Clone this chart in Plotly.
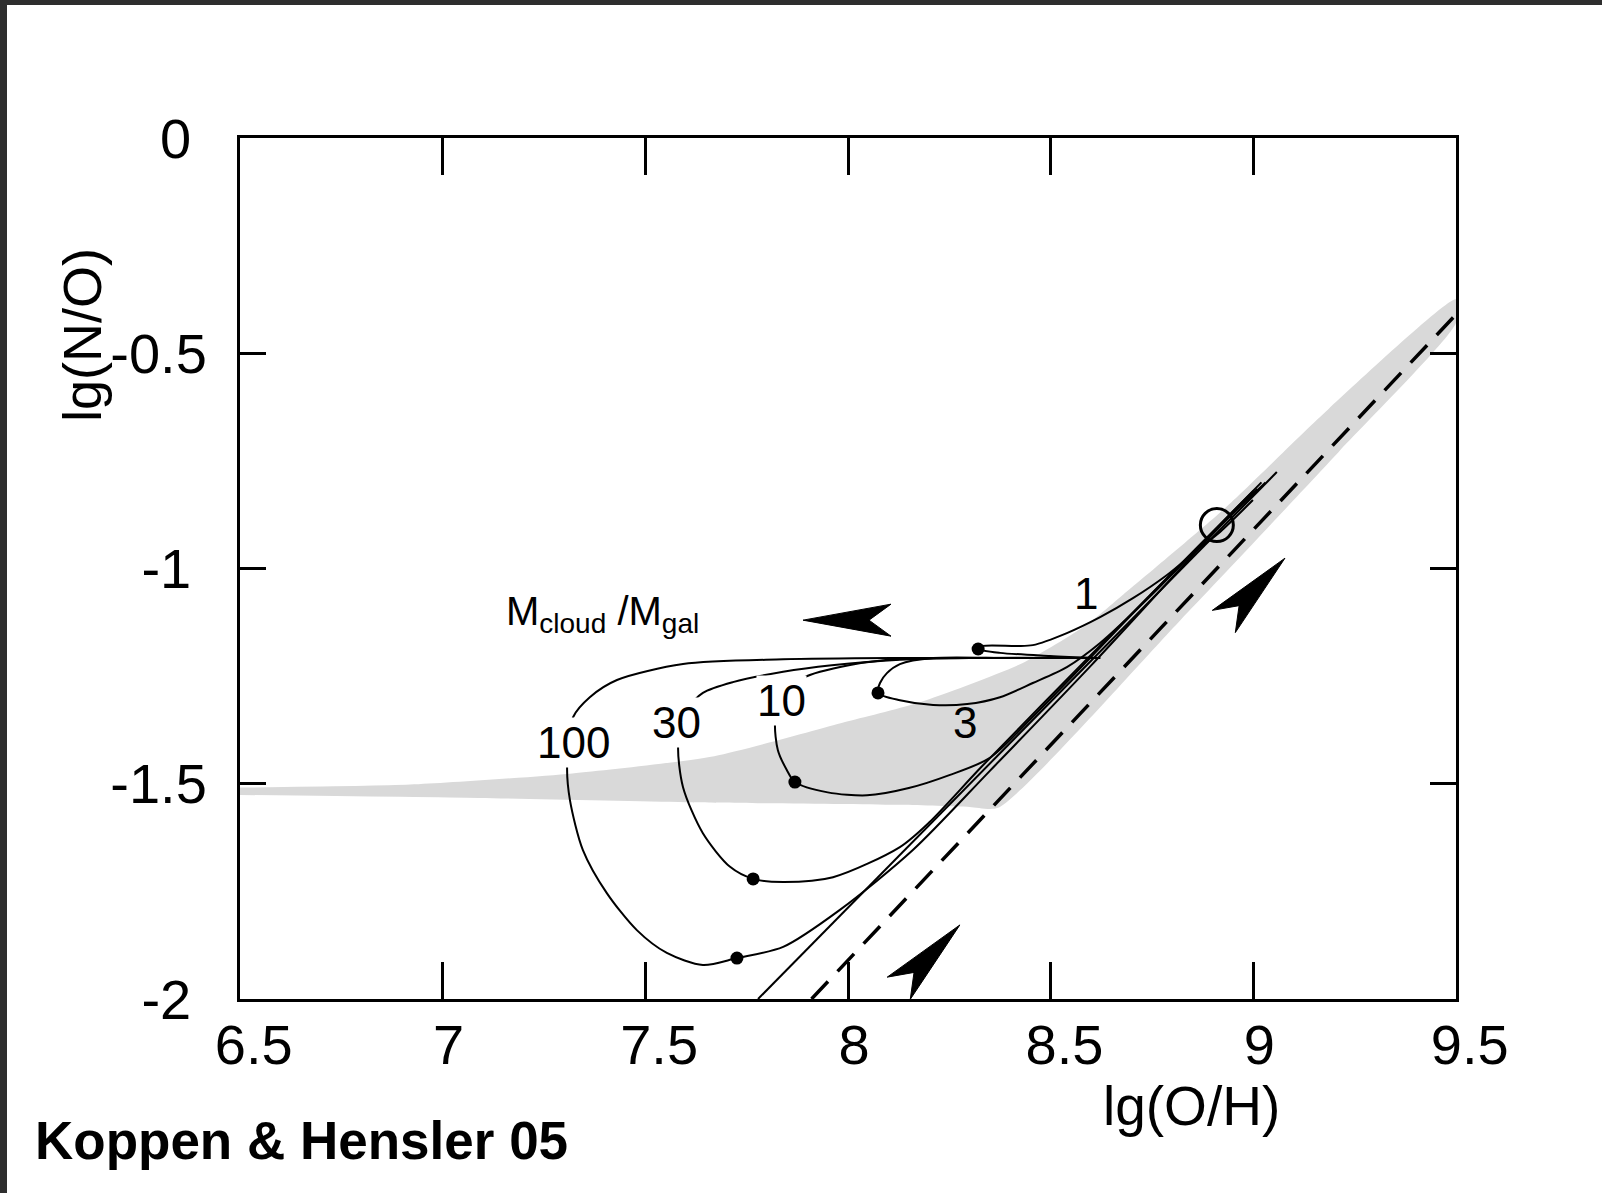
import math
import plotly.graph_objects as go

# ---------------- data ----------------
x_ticks = [6.5, 7, 7.5, 8, 8.5, 9, 9.5]
x_ticktext = ["\u00a06.5", "7", "\u00a07.5", "8", "\u00a08.5", "9", "\u00a09.5"]
y_ticks = [0, -0.5, -1, -1.5, -2]
y_ticktext = ["0\u00a0", "-0.5", "-1\u00a0", "-1.5", "-2\u00a0"]

# grey band (upper edge left->right, lower edge left->right)
band_upper_x = [6.5, 6.92, 7.32, 7.67, 8.0, 8.18, 8.43, 8.59, 8.68, 8.93, 9.185, 9.5]
band_upper_y = [-1.509, -1.502, -1.476, -1.436, -1.355, -1.31, -1.22, -1.13, -1.06, -0.86, -0.63, -0.375]
band_lower_x = [6.5, 7.09, 7.6, 8.13, 8.30, 8.37, 8.82, 9.21, 9.5]
band_lower_y = [-1.526, -1.533, -1.543, -1.549, -1.554, -1.556, -1.12, -0.73, -0.43]

# closed-box reference lines
dashed_x = [7.91, 9.5]
dashed_y = [-2.0, -0.41]
straight_x = [7.778, 9.058]
straight_y = [-2.0, -0.776]

# model tracks for M_cloud/M_gal
curve1_x = [8.622, 8.498, 8.375, 8.321, 8.333, 8.417, 8.456, 8.540, 8.622, 8.703, 8.787, 8.868, 8.918, 8.999]
curve1_y = [-1.208, -1.203, -1.196, -1.187, -1.180, -1.180, -1.178, -1.150, -1.113, -1.069, -1.015, -0.952, -0.915, -0.841]

curve3_x = [8.622, 8.40, 8.21, 8.128, 8.096, 8.079, 8.074, 8.128, 8.210, 8.294, 8.375, 8.456, 8.540, 8.622, 8.745, 8.85, 8.92, 9.01]
curve3_y = [-1.208, -1.208, -1.208, -1.222, -1.243, -1.266, -1.289, -1.306, -1.317, -1.315, -1.299, -1.266, -1.229, -1.173, -1.065, -0.965, -0.897, -0.815]

curve10_x = [8.622, 8.30, 8.128, 8.005, 7.889, 7.835, 7.820, 7.827, 7.849, 7.869, 7.95, 8.047, 8.15, 8.25, 8.35, 8.45, 8.6, 8.75, 8.91, 9.0]
curve10_y = [-1.208, -1.208, -1.210, -1.224, -1.254, -1.30, -1.359, -1.422, -1.468, -1.496, -1.52, -1.527, -1.51, -1.48, -1.44, -1.35, -1.205, -1.058, -0.905, -0.82]

curve30_x = [8.622, 8.3, 8.128, 7.960, 7.840, 7.716, 7.642, 7.600, 7.581, 7.593, 7.642, 7.709, 7.766, 7.840, 7.963, 8.128, 8.20, 8.33, 8.6, 8.91, 9.02]
curve30_y = [-1.208, -1.208, -1.212, -1.225, -1.240, -1.264, -1.289, -1.330, -1.410, -1.508, -1.615, -1.693, -1.721, -1.728, -1.717, -1.647, -1.59, -1.46, -1.20, -0.905, -0.80]

curve100_x = [8.622, 8.128, 7.840, 7.593, 7.430, 7.363, 7.322, 7.307, 7.314, 7.346, 7.405, 7.479, 7.553, 7.642, 7.726, 7.840, 7.980, 8.160, 8.35, 8.6, 8.91, 9.03]
curve100_y = [-1.208, -1.208, -1.211, -1.222, -1.259, -1.299, -1.345, -1.461, -1.538, -1.654, -1.754, -1.840, -1.893, -1.921, -1.905, -1.879, -1.793, -1.654, -1.47, -1.225, -0.91, -0.80]

dot_x = [8.321, 8.074, 7.869, 7.766, 7.726]
dot_y = [-1.187, -1.289, -1.496, -1.721, -1.905]

circle_x = [8.91]
circle_y = [-0.899]

label_text = ["1", "3", "10", "30", "100"]
label_x = [8.587, 8.289, 7.837, 7.578, 7.324]
label_y = [-1.057, -1.357, -1.306, -1.357, -1.405]
label_bg = [False, False, True, True, True]

arrow_tip_x = [7.889, 9.078, 8.276]
arrow_tip_y = [-1.120, -0.976, -1.828]
arrow_angle = [180, 46, 46]

# ---------------- geometry ----------------
W, H = 1602, 1193
PL, PR, PT, PB = 240, 1456, 138, 999
X0, X1, Y0, Y1 = 6.5, 9.5, -2.0, 0.0
sx = (PR - PL) / (X1 - X0)
sy = (PB - PT) / (Y1 - Y0)

def px_to_paper(px, py):
    return (px - PL) / (PR - PL), (PB - py) / (PB - PT)

FONT = "Liberation Sans, Arial, Helvetica, sans-serif"
fig = go.Figure()

# band
fig.add_trace(go.Scatter(
    x=band_upper_x + band_lower_x[::-1], y=band_upper_y + band_lower_y[::-1],
    fill="toself", fillcolor="#d9d9d9", mode="lines",
    line=dict(width=0, color="#d9d9d9", shape="spline", smoothing=0.6), hoverinfo="skip"))

fig.add_trace(go.Scatter(x=dashed_x, y=dashed_y, mode="lines",
                         line=dict(color="black", width=3.5, dash="24px,14px")))
fig.add_trace(go.Scatter(x=straight_x, y=straight_y, mode="lines",
                         line=dict(color="black", width=2)))

for cx, cy in [(curve1_x, curve1_y), (curve3_x, curve3_y), (curve10_x, curve10_y),
               (curve30_x, curve30_y), (curve100_x, curve100_y)]:
    fig.add_trace(go.Scatter(x=cx, y=cy, mode="lines",
                             line=dict(color="black", width=2, shape="spline", smoothing=0.8)))

fig.add_trace(go.Scatter(x=dot_x, y=dot_y, mode="markers",
                         marker=dict(color="black", size=13)))
fig.add_trace(go.Scatter(x=circle_x, y=circle_y, mode="markers",
                         marker=dict(symbol="circle-open", color="black", size=33,
                                     line=dict(width=3, color="black"))))

# arrowheads
L_ar, W_ar, N_ar = 88, 16, 22
local = [(0, 0), (-L_ar, W_ar), (-L_ar + N_ar, 0), (-L_ar, -W_ar), (0, 0)]
for tx, ty, ang in zip(arrow_tip_x, arrow_tip_y, arrow_angle):
    a = math.radians(ang)
    xs, ys = [], []
    for lx, ly in local:
        rx = lx * math.cos(a) - ly * math.sin(a)
        ry = lx * math.sin(a) + ly * math.cos(a)
        xs.append(tx + rx / sx)
        ys.append(ty + ry / sy)
    fig.add_trace(go.Scatter(x=xs, y=ys, fill="toself", fillcolor="black",
                             line=dict(color="black", width=1), mode="lines"))

annotations = []
for t, lx, ly, bg in zip(label_text, label_x, label_y, label_bg):
    annotations.append(dict(x=lx, y=ly, xref="x", yref="y", text=t, showarrow=False,
                            font=dict(family=FONT, size=44, color="black"),
                            bgcolor="white" if bg else "rgba(0,0,0,0)", borderpad=0))

annotations.append(dict(x=7.151, y=-1.105, xref="x", yref="y", xanchor="left", yanchor="middle",
                        text="M<sub>cloud</sub> /M<sub>gal</sub>", showarrow=False,
                        font=dict(family=FONT, size=40, color="black")))

ax_x, ax_y = px_to_paper(1191, 1106)
annotations.append(dict(x=ax_x, y=ax_y, xref="paper", yref="paper", text="lg(O/H)",
                        showarrow=False, xanchor="center", yanchor="middle",
                        font=dict(family=FONT, size=55, color="black")))
ay_x, ay_y = px_to_paper(82, 335)
annotations.append(dict(x=ay_x, y=ay_y, xref="paper", yref="paper", text="lg(N/O)",
                        showarrow=False, textangle=-90, xanchor="center", yanchor="middle",
                        font=dict(family=FONT, size=54, color="black")))
kx, ky = px_to_paper(33, 1140)
annotations.append(dict(x=kx, y=ky, xref="paper", yref="paper", text="<b>Koppen & Hensler 05</b>",
                        showarrow=False, xanchor="left", yanchor="middle",
                        font=dict(family=FONT, size=53, color="black")))

# dark photo border (left and top)
bx0, by0 = px_to_paper(0, 0)
bx1, by1 = px_to_paper(7, 5)
_, bybot = px_to_paper(0, H)
bxr, _ = px_to_paper(W, 0)
shapes = [
    dict(type="rect", xref="paper", yref="paper", x0=bx0, x1=bx1, y0=bybot, y1=by0,
         fillcolor="#2e2e2e", line=dict(width=0), layer="above"),
    dict(type="rect", xref="paper", yref="paper", x0=bx0, x1=bxr, y0=by1, y1=by0,
         fillcolor="#2e2e2e", line=dict(width=0), layer="above"),
]

fig.update_layout(
    width=W, height=H, autosize=False,
    margin=dict(l=PL, r=W - PR, t=PT, b=H - PB, pad=0),
    plot_bgcolor="white", paper_bgcolor="white", showlegend=False,
    annotations=annotations, shapes=shapes,
    font=dict(family=FONT, color="black"),
    xaxis=dict(range=[X0, X1], tickmode="array", tickvals=x_ticks, ticktext=x_ticktext,
               ticks="inside", ticklen=37, tickwidth=3, tickcolor="black",
               showline=True, linewidth=3, linecolor="black", mirror="ticks",
               showgrid=False, zeroline=False, tickfont=dict(size=56, family=FONT),
               ticklabelshift=6, ticklabelstandoff=-5),
    yaxis=dict(range=[Y0, Y1], tickmode="array", tickvals=y_ticks, ticktext=y_ticktext,
               ticks="inside", ticklen=26, tickwidth=3, tickcolor="black",
               showline=True, linewidth=3, linecolor="black", mirror="ticks",
               showgrid=False, zeroline=False, tickfont=dict(size=56, family=FONT),
               ticklabelstandoff=19),
)

fig.write_html("out.html")
